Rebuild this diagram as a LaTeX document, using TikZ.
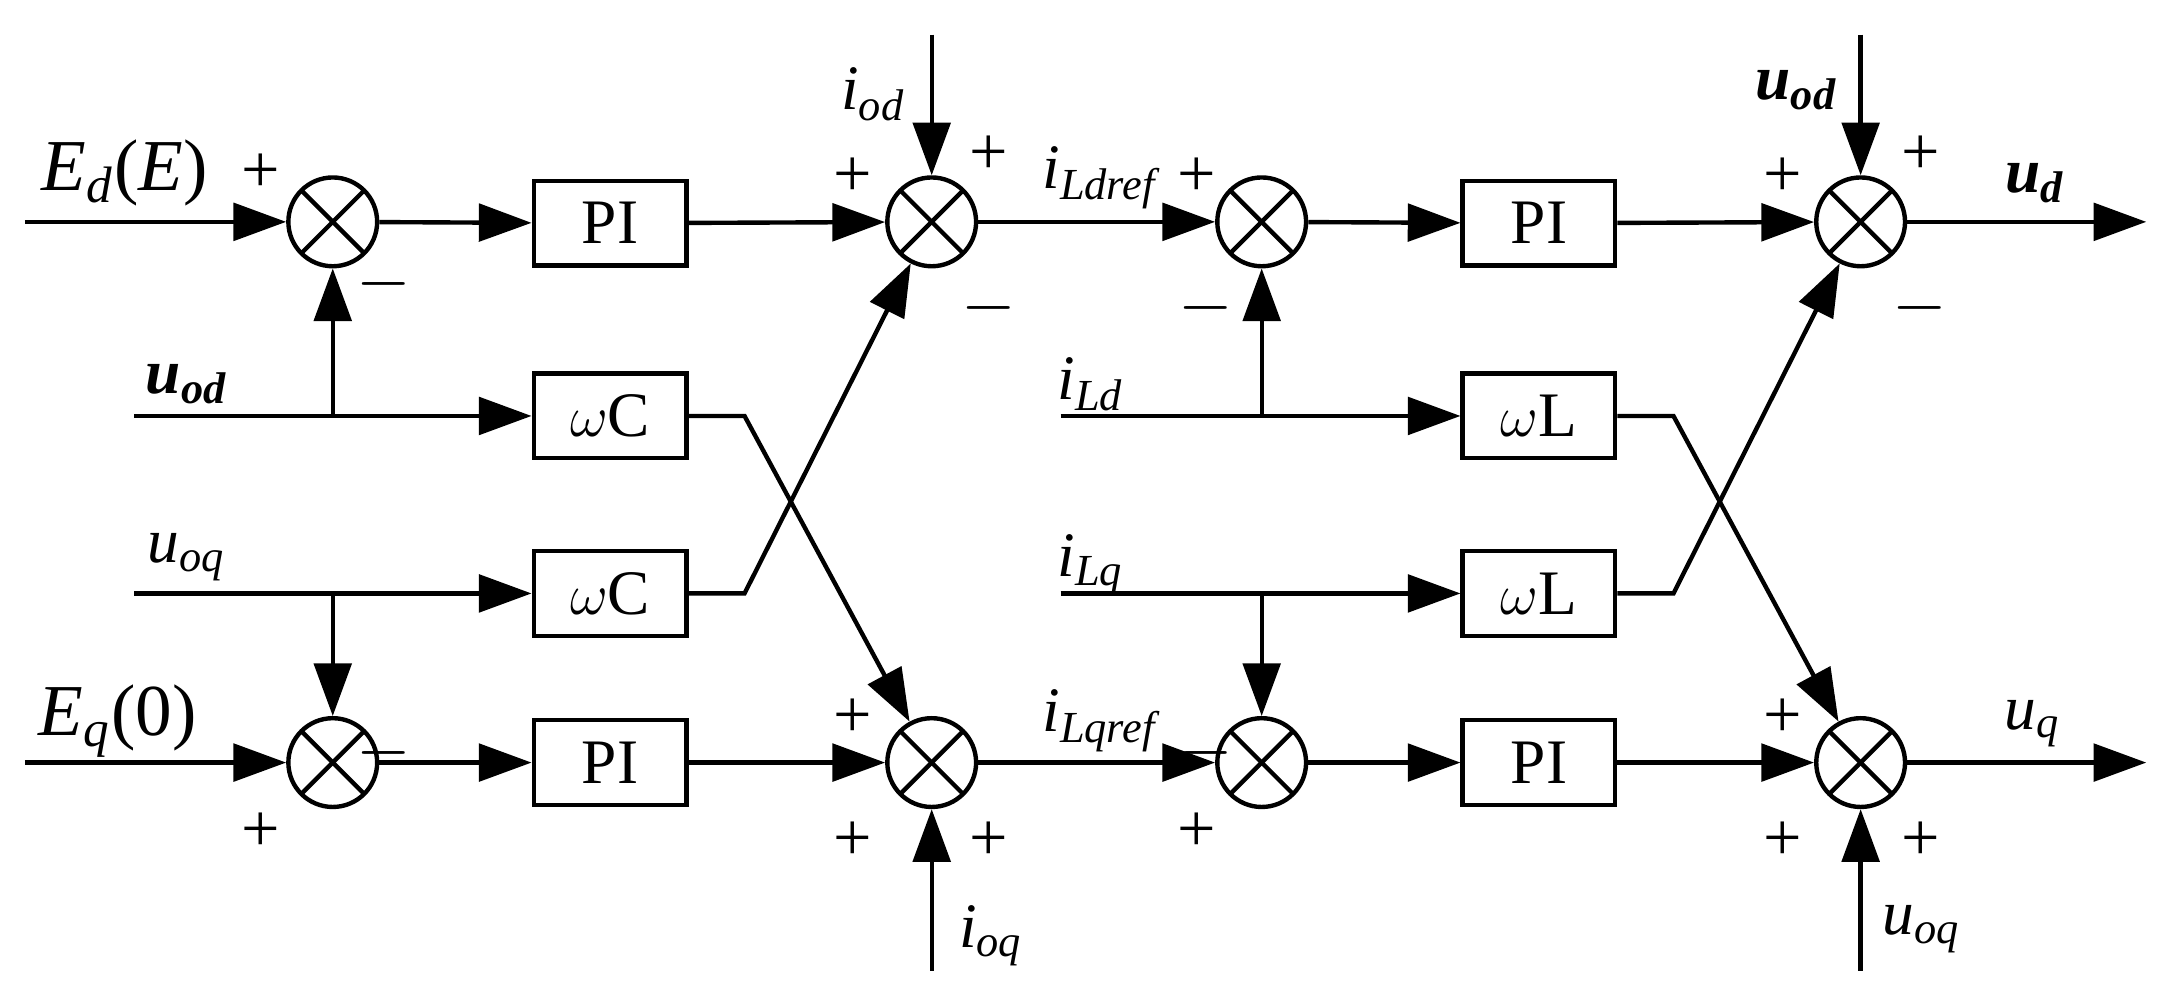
\documentclass[tikz,border=0pt]{standalone}
\usepackage{amsmath,bm}
\usepackage{fontspec}
\setmainfont{Liberation Serif}
\usetikzlibrary{arrows.meta}
\newcommand{\vi}[2]{\textit{#1}\textsubscript{\textit{#2}}}
\newcommand{\vb}[2]{\textbf{\textit{#1}}\textsubscript{\textbf{\textit{#2}}}}
\begin{document}
\begin{tikzpicture}[x=0.01cm,y=-0.01cm,line width=0.9pt,
  >={Triangle[length=0.38cm,width=0.27cm]},
  sum/.style={circle,draw,minimum size=0.64cm,inner sep=0pt,
    path picture={\draw (path picture bounding box.center) +(45:0.32cm) -- +(225:0.32cm);
                  \draw (path picture bounding box.center) +(135:0.32cm) -- +(-45:0.32cm);}},
  blk/.style={draw,minimum width=1.1cm,minimum height=0.61cm,inner sep=0pt,font=\fontsize{13}{13}\selectfont},
  lab/.style={font=\fontsize{13}{13}\selectfont},
  sg/.style={font=\fontsize{14}{14}\selectfont}]
\useasboundingbox (0,0) rectangle (1568,726);
% sums
\node[sum] (s1) at (240,160) {};
\node[sum] (s2) at (672,160) {};
\node[sum] (s3) at (910,160) {};
\node[sum] (s4) at (1342,160) {};
\node[sum] (s5) at (240,550) {};
\node[sum] (s6) at (672,550) {};
\node[sum] (s7) at (910,550) {};
\node[sum] (s8) at (1342,550) {};
% blocks
\node[blk] (pi1) at (440,161) {PI};
\node[blk] (pi2) at (440,550) {PI};
\node[blk] (pi3) at (1110,161) {PI};
\node[blk] (pi4) at (1110,550) {PI};
\node[blk] (wc1) at (440,300) {$\omega$C};
\node[blk] (wc2) at (440,428) {$\omega$C};
\node[blk] (wl1) at (1110,300) {$\omega$L};
\node[blk] (wl2) at (1110,428) {$\omega$L};
% coordinates
\coordinate (ed) at (18,160);
\coordinate (eq) at (18,550);
\coordinate (uod) at (97,300);
\coordinate (uoq) at (97,428);
\coordinate (b1) at (240,300);
\coordinate (b2) at (240,428);
\coordinate (k1) at (537,300);
\coordinate (k2) at (537,428);
\coordinate (iod) at (672,25);
\coordinate (ioq) at (672,700);
\coordinate (ild) at (765,300);
\coordinate (ilq) at (765,428);
\coordinate (b3) at (910,300);
\coordinate (b4) at (910,428);
\coordinate (k3) at (1207,300);
\coordinate (k4) at (1207,428);
\coordinate (uod2) at (1342,25);
\coordinate (uoq2) at (1342,700);
\coordinate (ud) at (1548,160);
\coordinate (uq) at (1548,550);
% connectors
\draw[->] (ed) -- (s1);
\draw[->] (s1) -- (pi1);
\draw[->] (pi1) -- (s2);
\draw[->] (s2) -- (s3);
\draw[->] (s3) -- (pi3);
\draw[->] (pi3) -- (s4);
\draw[->] (s4) -- (ud);
\draw[->] (eq) -- (s5);
\draw[->] (s5) -- (pi2);
\draw[->] (pi2) -- (s6);
\draw[->] (s6) -- (s7);
\draw[->] (s7) -- (pi4);
\draw[->] (pi4) -- (s8);
\draw[->] (s8) -- (uq);
\draw[->] (uod) -- (wc1);
\draw[->] (b1) -- (s1);
\draw[->] (uoq) -- (wc2);
\draw[->] (b2) -- (s5);
\draw[->] (wc1) -- (k1) -- (s6);
\draw[->] (wc2) -- (k2) -- (s2);
\draw[->] (iod) -- (s2);
\draw[->] (ioq) -- (s6);
\draw[->] (ild) -- (wl1);
\draw[->] (b3) -- (s3);
\draw[->] (ilq) -- (wl2);
\draw[->] (b4) -- (s7);
\draw[->] (wl1) -- (k3) -- (s8);
\draw[->] (wl2) -- (k4) -- (s4);
\draw[->] (uod2) -- (s4);
\draw[->] (uoq2) -- (s8);
% labels
\node[lab,font=\fontsize{15}{15}\selectfont] (l1) at (90,125) {\vi{E}{d}(\textit{E})};
\node[lab,font=\fontsize{15}{15}\selectfont] (l2) at (85,520) {\vi{E}{q}(0)};
\node[lab] (l3) at (135,277) {\vb{u}{od}};
\node[lab] (l4) at (135,402) {\vi{u}{oq}};
\node[lab] (l5) at (630,68) {\vi{i}{od}};
\node[lab] (l6) at (715,675) {\vi{i}{oq}};
\node[lab] (l7) at (795,128) {\vi{i}{Ldref}};
\node[lab] (l8) at (795,520) {\vi{i}{Lqref}};
\node[lab] (l9) at (787,277) {\vi{i}{Ld}};
\node[lab] (l10) at (787,407) {\vi{i}{Lq}};
\node[lab] (l11) at (1296,65) {\vb{u}{od}};
\node[lab] (l12) at (1386,670) {\vi{u}{oq}};
\node[lab] (l13) at (1468,132) {\vb{u}{d}};
\node[lab] (l14) at (1466,522) {\vi{u}{q}};
% signs
\node[sg] (p1) at (188,125) {+};
\node[sg] (m1) at (277,205) {$-$};
\node[sg] (p2) at (615,128) {+};
\node[sg] (p3) at (713,112) {+};
\node[sg] (m2) at (713,222) {$-$};
\node[sg] (p4) at (863,128) {+};
\node[sg] (m3) at (870,222) {$-$};
\node[sg] (p5) at (1286,128) {+};
\node[sg] (p6) at (1385,112) {+};
\node[sg] (m4) at (1385,222) {$-$};
\node[sg] (m5) at (277,543) {$-$};
\node[sg] (p7) at (188,600) {+};
\node[sg] (p8) at (615,518) {+};
\node[sg] (p9) at (615,607) {+};
\node[sg] (p10) at (713,607) {+};
\node[sg] (m6) at (870,543) {$-$};
\node[sg] (p11) at (863,600) {+};
\node[sg] (p12) at (1286,518) {+};
\node[sg] (p13) at (1286,607) {+};
\node[sg] (p14) at (1385,607) {+};
\end{tikzpicture}
\end{document}
